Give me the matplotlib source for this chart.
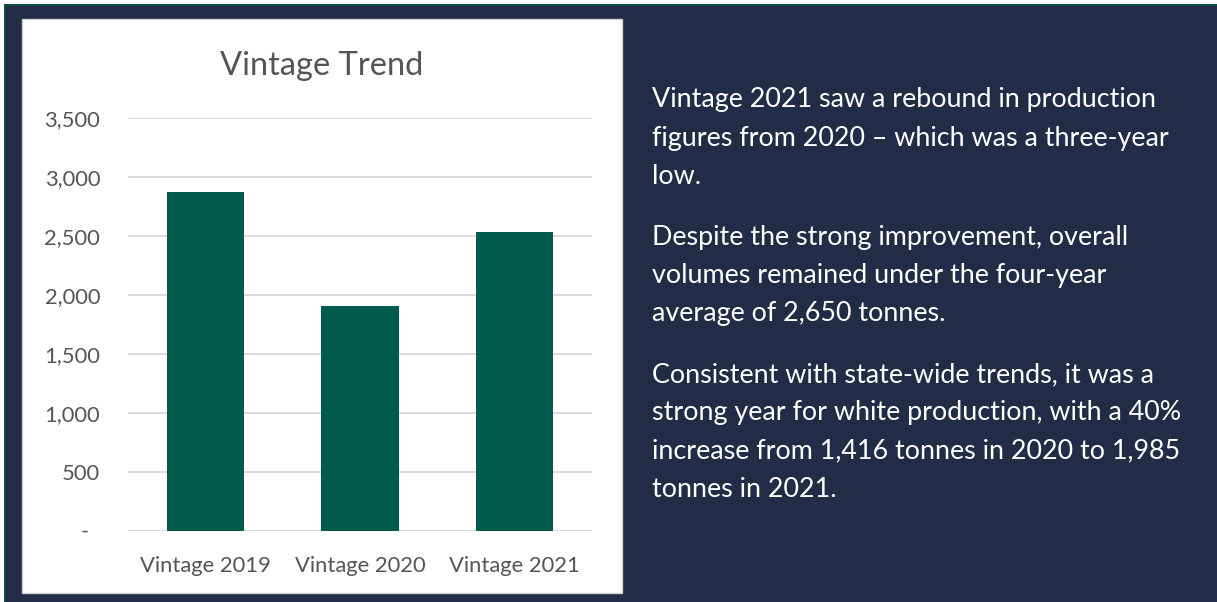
import matplotlib
matplotlib.use("Agg")
import matplotlib.pyplot as plt
from matplotlib.patches import Rectangle
from matplotlib.ticker import FuncFormatter

# data
categories = ["Vintage 2019", "Vintage 2020", "Vintage 2021"]
tonnes = [2878, 1910, 2537]
yticks = [0, 500, 1000, 1500, 2000, 2500, 3000, 3500]

paragraphs = [
    ["Vintage 2021 saw a rebound in production",
     "figures from 2020 \u2013 which was a three-year",
     "low."],
    ["Despite the strong improvement, overall",
     "volumes remained under the four-year",
     "average of 2,650 tonnes."],
    ["Consistent with state-wide trends, it was a",
     "strong year for white production, with a 40%",
     "increase from 1,416 tonnes in 2020 to 1,985",
     "tonnes in 2021."],
]

W, H = 1217, 602
NAVY = "#232C47"
TEAL = "#005A4E"
EDGE_GREEN = "#0B4D3F"
GREY = "#555555"

plt.rcParams["font.family"] = ["Lato", "DejaVu Sans"]

fig = plt.figure(figsize=(W / 100, H / 100), dpi=100, facecolor="white")

def box(x0, y0, x1, y1):
    # pixel box (from top-left) -> figure fraction rect args
    return (x0 / W, 1 - y1 / H), (x1 - x0) / W, (y1 - y0) / H

# background slide
xy, w, h = box(4, 4, W, H)
fig.add_artist(Rectangle(xy, w, h, transform=fig.transFigure, color=EDGE_GREEN, lw=0, zorder=0))
xy, w, h = box(6, 6, W, H)
fig.add_artist(Rectangle(xy, w, h, transform=fig.transFigure, color=NAVY, lw=0, zorder=0))
# white chart panel
xy, w, h = box(22, 19, 622, 593)
fig.add_artist(Rectangle(xy, w, h, transform=fig.transFigure, facecolor="white",
                         edgecolor="#D0D0D0", lw=1, zorder=0))

# chart
ax = fig.add_axes([128 / W, 1 - 530.5 / H, (592 - 128) / W, (530.5 - 118.3) / H])
ax.set_facecolor("none")
ax.bar(range(len(categories)), tonnes, width=0.5, color=TEAL, zorder=3)
ax.set_xlim(-0.5, len(categories) - 0.5)
ax.set_ylim(0, 3500)
ax.set_yticks(yticks)
ax.yaxis.set_major_formatter(FuncFormatter(lambda v, p: "-  " if v == 0 else f"{int(v):,}"))
ax.set_xticks(range(len(categories)))
ax.set_xticklabels(categories)
ax.grid(axis="y", color="#D9D9D9", lw=1.3, zorder=0)
for s in ax.spines.values():
    s.set_visible(False)
ax.tick_params(axis="both", length=0, colors=GREY, labelsize=15.8)
ax.tick_params(axis="y", pad=20)
ax.tick_params(axis="x", pad=18)

fig.text(322 / W, 1 - 75 / H, "Vintage Trend", ha="center", va="baseline",
         fontsize=23.5, color=GREY)

# commentary
baselines = [[107, 146, 184], [245, 283, 321], [382, 420, 458, 497]]
for lines, ys in zip(paragraphs, baselines):
    for line, y in zip(lines, ys):
        fig.text(652 / W, 1 - y / H, line, ha="left", va="baseline",
                 fontsize=19.4, color="white")

fig.savefig("out.png", dpi=100, facecolor=fig.get_facecolor())
